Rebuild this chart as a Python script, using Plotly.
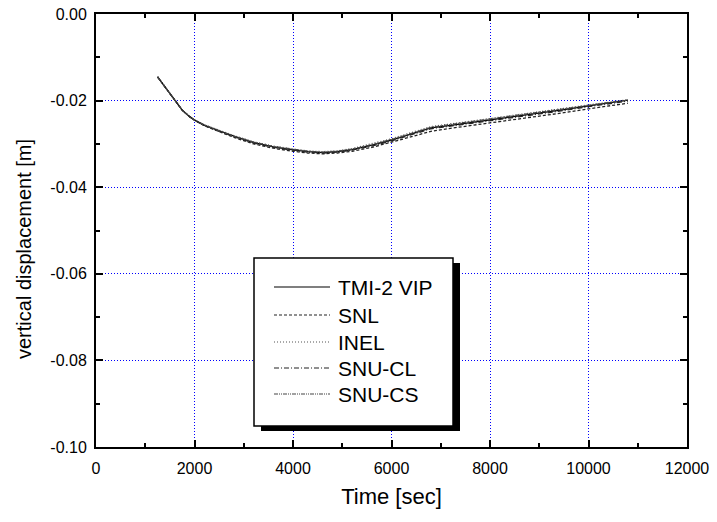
import plotly.graph_objects as go

time_s = [1250, 1400, 1600, 1750, 1900, 2000, 2200, 2500, 2800, 3200, 3600, 4000, 4300,
          4600, 4900, 5200, 5600, 6000, 6400, 6800, 7200, 7600, 8000, 8500, 9000, 9500,
          10000, 10500, 10800]

early = [-0.0145, -0.0168, -0.0197, -0.0222, -0.0237, -0.0245]

tmi2_vip = early + [-0.0257, -0.0270, -0.0282, -0.0297, -0.0307, -0.0314, -0.0318, -0.0320,
                    -0.0318, -0.0313, -0.0303, -0.0291, -0.0277, -0.0263, -0.0257, -0.0251,
                    -0.0245, -0.0237, -0.0229, -0.0221, -0.0212, -0.0204, -0.0199]
snl = early + [-0.0258, -0.0272, -0.0285, -0.0300, -0.0310, -0.0317, -0.0321, -0.0323,
               -0.0321, -0.0317, -0.0308, -0.0296, -0.0283, -0.0271, -0.0264, -0.0258,
               -0.0252, -0.0244, -0.0236, -0.0228, -0.0219, -0.0211, -0.0206]
inel = early + [-0.0256, -0.0269, -0.0281, -0.0295, -0.0305, -0.0312, -0.0316, -0.0318,
                -0.0316, -0.0311, -0.0300, -0.0288, -0.0274, -0.0260, -0.0254, -0.0248,
                -0.0242, -0.0234, -0.0226, -0.0218, -0.0210, -0.0202, -0.0198]
snu_cl = early + [-0.0257, -0.0271, -0.0283, -0.0298, -0.0308, -0.0315, -0.0319, -0.0321,
                  -0.0319, -0.0314, -0.0305, -0.0293, -0.0279, -0.0265, -0.0259, -0.0253,
                  -0.0247, -0.0239, -0.0231, -0.0223, -0.0214, -0.0206, -0.0201]
snu_cs = early + [-0.0256, -0.0270, -0.0282, -0.0296, -0.0306, -0.0313, -0.0317, -0.0319,
                  -0.0317, -0.0312, -0.0302, -0.0290, -0.0276, -0.0262, -0.0255, -0.0249,
                  -0.0243, -0.0235, -0.0227, -0.0219, -0.0211, -0.0203, -0.0199]

series_names = ["TMI-2 VIP", "SNL", "INEL", "SNU-CL", "SNU-CS"]
series_values = [tmi2_vip, snl, inel, snu_cl, snu_cs]
dashes = ["solid", "3px,2px", "1px,2px", "5px,2px,1px,2px", "4px,1px,1px,1px,1px,1px"]
colors = ["#000000", "#222222", "#555555", "#222222", "#444444"]

x_ticks = [0, 2000, 4000, 6000, 8000, 10000, 12000]
y_ticks = [0.00, -0.02, -0.04, -0.06, -0.08, -0.10]
y_tick_text = ["0.00", "-0.02", "-0.04", "-0.06", "-0.08", "-0.10"]

# body margin removed via post_script, so figure sits at (0, 0)
W, H = 717, 522
ML, MT = 96, 14
PLOT_R, PLOT_B = 687, 447
MR, MB = W - PLOT_R, H - PLOT_B
PW, PH = PLOT_R - ML, PLOT_B - MT

def px(x):
    return (x - ML) / PW

def py(y):
    return (PLOT_B - y) / PH

fig = go.Figure()
for name, vals, dsh, col in zip(series_names, series_values, dashes, colors):
    fig.add_trace(go.Scatter(x=time_s, y=vals, mode="lines", name=name,
                             line=dict(color=col, width=1.3, dash=dsh),
                             showlegend=False))

font_family = "Liberation Sans, Arial, sans-serif"
shapes = []
annotations = []
# legend shadow and box
shapes.append(dict(type="rect", xref="paper", yref="paper", layer="above",
                   x0=px(261), x1=px(460), y0=py(263), y1=py(431),
                   fillcolor="black", line=dict(width=0)))
shapes.append(dict(type="rect", xref="paper", yref="paper", layer="above",
                   x0=px(254), x1=px(453), y0=py(258), y1=py(426),
                   fillcolor="white", line=dict(color="black", width=1.5)))
rows = [287, 315, 342, 368, 394]
for name, dsh, col, ry in zip(series_names, dashes, colors, rows):
    shapes.append(dict(type="line", xref="paper", yref="paper", layer="above",
                       x0=px(274), x1=px(330), y0=py(ry), y1=py(ry),
                       line=dict(color=col, width=1.2, dash=dsh)))
    annotations.append(dict(text=name, xref="paper", yref="paper", x=px(336), y=py(ry),
                            xanchor="left", yanchor="middle", showarrow=False,
                            font=dict(size=21, color="black", family=font_family)))

annotations.append(dict(text="vertical displacement [m]", xref="paper", yref="paper",
                        x=px(24), y=py(249), textangle=-90, xanchor="center", yanchor="middle",
                        showarrow=False, font=dict(size=20, color="black", family=font_family)))

axis_common = dict(showline=True, linecolor="black", linewidth=2, mirror="allticks",
                   ticks="inside", ticklen=7, tickwidth=1.5, tickcolor="black",
                   showgrid=True, gridcolor="#0000ff", gridwidth=1, griddash="1px,2px",
                   zeroline=False, automargin=False, ticklabeloverflow="allow",
                   tickfont=dict(size=16, color="black", family=font_family))

fig.update_xaxes(range=[0, 12000], tickvals=x_ticks, ticktext=[str(v) for v in x_ticks],
                 minor=dict(dtick=1000, tick0=0, ticks="inside", ticklen=4, tickcolor="black",
                            showgrid=False),
                 title=dict(text="Time [sec]", font=dict(size=22, color="black", family=font_family),
                            standoff=12),
                 ticklabelstandoff=6,
                 **axis_common)
fig.update_yaxes(range=[-0.10, 0.0], tickvals=y_ticks, ticktext=y_tick_text,
                 minor=dict(dtick=0.01, tick0=0, ticks="inside", ticklen=4, tickcolor="black",
                            showgrid=False),
                 ticklabelstandoff=4,
                 **axis_common)

fig.update_layout(width=W, height=H, margin=dict(l=ML, r=MR, t=MT, b=MB),
                  plot_bgcolor="white", paper_bgcolor="white",
                  shapes=shapes, annotations=annotations, showlegend=False,
                  font=dict(family=font_family, color="black"))

fig.write_html("out.html", config={"displayModeBar": False},
               post_script="document.body.style.margin='0px';document.body.style.overflow='hidden';")
